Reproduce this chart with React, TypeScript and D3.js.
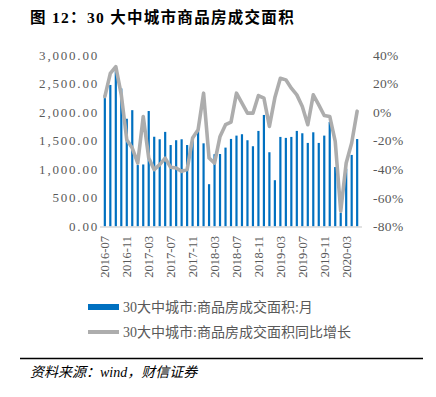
import { useEffect, useRef } from "react";
import * as d3 from "d3";

const months = [
  "2016-07", "2016-08", "2016-09", "2016-10", "2016-11", "2016-12",
  "2017-01", "2017-02", "2017-03", "2017-04", "2017-05", "2017-06",
  "2017-07", "2017-08", "2017-09", "2017-10", "2017-11", "2017-12",
  "2018-01", "2018-02", "2018-03", "2018-04", "2018-05", "2018-06",
  "2018-07", "2018-08", "2018-09", "2018-10", "2018-11", "2018-12",
  "2019-01", "2019-02", "2019-03", "2019-04", "2019-05", "2019-06",
  "2019-07", "2019-08", "2019-09", "2019-10", "2019-11", "2019-12",
  "2020-01", "2020-02", "2020-03", "2020-04", "2020-05"
];

// 30大中城市:商品房成交面积:月 (万平方米)
const area = [
  2300, 2476, 2750, 2415, 1885, 2035,
  1075, 1085, 2020, 1570, 1526, 1655,
  1425, 1509, 1526, 1425, 1495, 1680,
  1455, 740, 1265, 1268, 1380, 1532,
  1590, 1614, 1509, 1404, 1672, 1951,
  1299, 810, 1567, 1550, 1567, 1672,
  1631, 1462, 1648, 1462, 1590, 1830,
  1040, 237, 1010, 1252, 1530
];

// 同比增长 (%)
const yoy = [
  10.9, 27.2, 31.9, 12.1, -19.3, -25.1,
  -35.6, -3.0, -32.1, -40.2, -36.7, -32.1,
  -38.6, -39.1, -41.4, -40.2, -18.1, -12.3,
  13.3, -32.1, -35.6, -17.0, -8.8, -7.0,
  13.3, 6.3, -0.7, -0.7, 11.6, 9.8,
  -10.0, 10.2, 23.7, 22.6, 16.8, 12.1,
  3.9, -8.8, 12.1, 5.1, -2.3, -3.0,
  -20.5, -69.3, -35.6, -21.6, 0.7
];

const leftTicks = [0, 500, 1000, 1500, 2000, 2500, 3000];
const rightTicks = [-80, -60, -40, -20, 0, 20, 40];
const xLabels = months.filter((_, i) => i % 4 === 0);

const seriesNames = ["30大中城市:商品房成交面积:月", "30大中城市:商品房成交面积同比增长"];

const W = 436;
const H = 397;
const serif = "'Liberation Serif', 'Times New Roman', 'Noto Sans CJK SC', serif";
const cjk = "'Liberation Serif', 'Noto Sans CJK SC', sans-serif";

export default function App() {
  const ref = useRef<SVGSVGElement>(null);

  useEffect(() => {
    const svg = d3.select(ref.current);
    svg.selectAll("*").remove();

    const top = 55, bottom = 226.5;
    const x = d3.scaleBand<string>().domain(months).range([101, 361]).paddingInner(0.6).paddingOuter(0.5);
    const yL = d3.scaleLinear().domain([0, 3000]).range([bottom, top]);
    const yR = d3.scaleLinear().domain([-80, 40]).range([bottom, top]);
    const cx = (m: string) => (x(m) ?? 0) + x.bandwidth() / 2;

    // title
    svg.append("text")
      .attr("x", 30).attr("y", 23)
      .attr("font-family", cjk).attr("font-weight", "bold")
      .attr("font-size", 15.5).attr("letter-spacing", 1.3)
      .attr("fill", "#000")
      .text("图 12：30 大中城市商品房成交面积");

    // left axis labels
    svg.append("g").selectAll("text").data(leftTicks).join("text")
      .attr("x", 99).attr("y", d => yL(d)).attr("dy", "0.35em")
      .attr("text-anchor", "end")
      .attr("font-family", serif).attr("font-size", 13).attr("letter-spacing", 1.8)
      .attr("fill", "#595959")
      .text(d => d3.format(",.2f")(d));

    // right axis labels
    svg.append("g").selectAll("text").data(rightTicks).join("text")
      .attr("x", 373).attr("y", d => yR(d)).attr("dy", "0.35em")
      .attr("font-family", serif).attr("font-size", 13.5).attr("letter-spacing", 0.3)
      .attr("fill", "#595959")
      .text(d => `${d}%`);

    // bars
    svg.append("g").selectAll("rect").data(months).join("rect")
      .attr("x", d => x(d) ?? 0)
      .attr("y", (_, i) => yL(area[i]))
      .attr("width", x.bandwidth())
      .attr("height", (_, i) => bottom - yL(area[i]))
      .attr("fill", "#0070C0");

    // baseline
    svg.append("line")
      .attr("x1", 100).attr("x2", 362).attr("y1", bottom + 0.5).attr("y2", bottom + 0.5)
      .attr("stroke", "#d9d9d9").attr("stroke-width", 1.5);

    // yoy line
    const line = d3.line<number>()
      .x((_, i) => cx(months[i]))
      .y(d => yR(d));
    svg.append("path")
      .attr("d", line(yoy))
      .attr("fill", "none")
      .attr("stroke", "#ADADAD")
      .attr("stroke-width", 3.6)
      .attr("stroke-linejoin", "round")
      .attr("stroke-linecap", "round");

    // x labels
    svg.append("g").selectAll("text").data(xLabels).join("text")
      .attr("transform", d => `translate(${cx(d)},236) rotate(-90)`)
      .attr("dy", "0.35em")
      .attr("text-anchor", "end")
      .attr("font-family", serif).attr("font-size", 12.5)
      .attr("fill", "#595959")
      .text(d => d);

    // legend
    const lg = svg.append("g");
    lg.append("rect").attr("x", 88).attr("y", 304).attr("width", 31).attr("height", 6).attr("fill", "#0070C0");
    lg.append("line").attr("x1", 88).attr("x2", 119).attr("y1", 332).attr("y2", 332)
      .attr("stroke", "#ADADAD").attr("stroke-width", 4);
    lg.selectAll("text").data(seriesNames).join("text")
      .attr("x", 123).attr("y", (_, i) => 307 + i * 25).attr("dy", "0.35em")
      .attr("font-family", cjk).attr("font-size", 14)
      .attr("fill", "#595959")
      .text(d => d);

    // separator
    svg.append("line")
      .attr("x1", 20).attr("x2", 423).attr("y1", 358.5).attr("y2", 358.5)
      .attr("stroke", "#000").attr("stroke-width", 1.3);

    // source
    svg.append("text")
      .attr("x", 30).attr("y", 377)
      .attr("font-family", cjk).attr("font-style", "italic")
      .attr("font-size", 14).attr("fill", "#000")
      .text("资料来源：wind，财信证券");
  }, []);

  return (
    <svg
      ref={ref}
      width={W}
      height={H}
      style={{ position: "absolute", left: 0, top: 0, background: "#fff" }}
    />
  );
}
